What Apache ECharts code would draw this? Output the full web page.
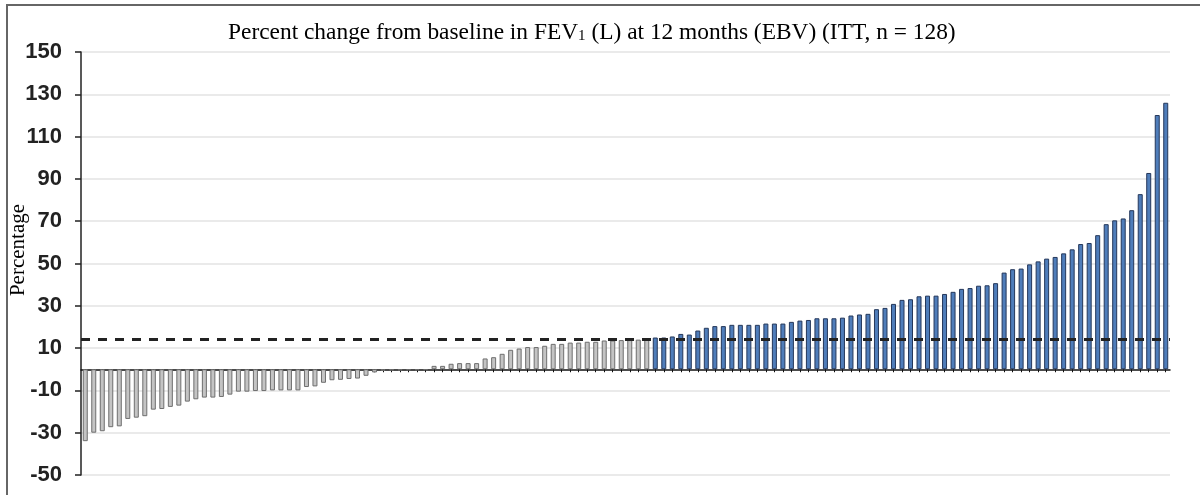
<!DOCTYPE html>
<html>
<head>
<meta charset="utf-8">
<script src="https://cdn.jsdelivr.net/npm/echarts@6/dist/echarts.min.js"></script>
<style>html,body{margin:0;padding:0;background:#fff}#c{width:1200px;height:495px}</style>
</head>
<body>
<div id="c"></div>
<script>
// Patients 1..128 sorted by percent change
const grayValues = [
  -34, -30, -29.3, -27.4, -27, -23.5, -22.9, -22.2, -19.1, -18.8,
  -17.8, -17.2, -15.3, -14.2, -13.4, -13.4, -13.1, -12, -10.6, -10.6,
  -10.3, -10.3, -10, -10, -10, -10, -8.4, -8.1, -6.4, -5.2,
  -5, -4.6, -4.4, -3.1, -1.5, -0.7, -0.6, -0.6, -0.5, -0.5,
  -0.4, 1.6, 1.6, 2.6, 2.9, 2.9, 2.9, 5.1, 5.7, 7.3,
  9.2, 9.8, 10.5, 10.5, 11.1, 12, 12, 12.6, 12.6, 13,
  13, 13.6, 13.6, 13.8, 13.8, 14, 14
];
const blueValues = [
  15, 15, 15.5, 16.7, 16.4, 18.3, 19.6, 20.4, 20.4, 21,
  21, 21, 21, 21.6, 21.6, 21.6, 22.4, 23, 23.3, 24.1,
  24.1, 24.1, 24.4, 25.4, 25.9, 26.2, 28.4, 29, 30.9, 32.8,
  33.1, 34.5, 34.8, 34.8, 35.6, 36.6, 38, 38.4, 39.5, 39.7,
  40.7, 45.7, 47.3, 47.6, 49.6, 51, 52.3, 53.1, 54.8, 56.7,
  59.2, 59.7, 63.4, 68.6, 70.4, 71.3, 75.2, 82.8, 92.8, 120.2,
  126
];
const thresholdValue = 14;
const yTicks = { min: -50, max: 150, interval: 20 };
const titleParts = ['Percent change from baseline in FEV', '1', ' (L) at 12 months (EBV) (ITT, n = 128)'];
const yAxisTitle = 'Percentage';

const n = grayValues.length + blueValues.length;
const categories = Array.from({length: n}, (_, i) => String(i + 1));
const grayData = categories.map((_, i) => i < grayValues.length ? grayValues[i] : '-');
const blueData = categories.map((_, i) => i >= grayValues.length ? blueValues[i - grayValues.length] : '-');

const chart = echarts.init(document.getElementById('c'), null, {renderer: 'canvas'});
chart.setOption({
  animation: false,
  backgroundColor: '#fff',
  title: {
    text: '{a|' + titleParts[0] + '}{s|' + titleParts[1] + '}{a|' + titleParts[2] + '}',
    left: 223, top: 14,
    textStyle: {
      fontWeight: 'normal',
      rich: {
        a: {fontFamily: 'Liberation Serif', fontWeight: 'normal', fontSize: 23.4, color: '#000', verticalAlign: 'bottom', lineHeight: 25},
        s: {fontFamily: 'Liberation Serif', fontWeight: 'normal', fontSize: 15, color: '#000', verticalAlign: 'bottom', lineHeight: 21}
      }
    }
  },
  graphic: [
    {type: 'rect', shape: {x: 7, y: 5, width: 1300, height: 600}, style: {fill: 'none', stroke: '#666', lineWidth: 2}, silent: true, z: 100},
    {type: 'text', x: 18, y: 250, rotation: Math.PI / 2, style: {text: yAxisTitle, font: '21px "Liberation Serif"', fill: '#000', align: 'center', verticalAlign: 'middle'}}
  ],
  grid: {left: 81, right: 30, top: 52, bottom: 20, containLabel: false},
  xAxis: {
    type: 'category', data: categories,
    axisLine: {onZero: true, lineStyle: {color: '#111', width: 1.5}},
    axisTick: {show: true, interval: 0, alignWithLabel: true, length: 3, lineStyle: {color: '#111', width: 1}},
    axisLabel: {show: false},
    splitLine: {show: false}
  },
  yAxis: {
    type: 'value', min: yTicks.min, max: yTicks.max, interval: yTicks.interval,
    axisLine: {show: true, onZero: false, lineStyle: {color: '#222', width: 1.5}},
    axisTick: {show: true, length: 6, lineStyle: {color: '#222', width: 1.5}},
    axisLabel: {fontFamily: 'Liberation Sans', fontWeight: 'bold', fontSize: 22, color: '#222', margin: 19},
    splitLine: {show: true, lineStyle: {color: '#e3e3e3', width: 1.5}}
  },
  series: [
    {
      type: 'bar', data: grayData, barWidth: 5, barGap: '-100%',
      itemStyle: {color: '#c4c4c4', borderColor: '#6e6e6e', borderWidth: 1},
      markLine: {
        silent: true, symbol: 'none', label: {show: false},
        lineStyle: {color: '#222', type: [9, 8], width: 3},
        data: [{yAxis: thresholdValue}]
      },
      z: 2
    },
    {
      type: 'bar', data: blueData, barWidth: 5, barGap: '-100%',
      itemStyle: {color: '#4f7dba', borderColor: '#24375a', borderWidth: 1},
      z: 2
    }
  ]
});
</script>
</body>
</html>
